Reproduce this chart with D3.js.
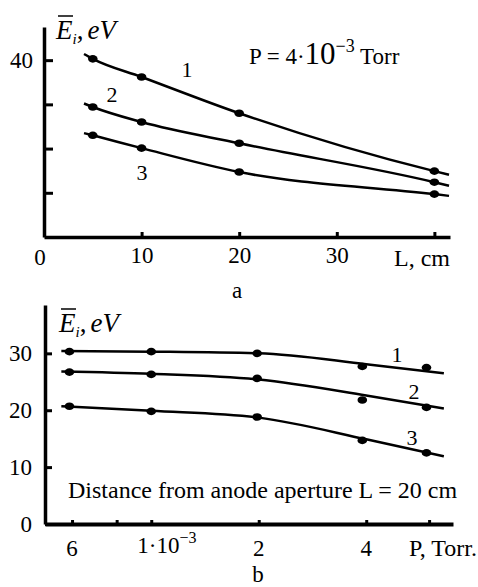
<!DOCTYPE html>
<html>
<head>
<meta charset="utf-8">
<script src="https://cdn.jsdelivr.net/npm/d3@7"></script>
<style>
  body { margin: 0; background: #fff; }
  svg { display: block; }
  .axis path, .axis line { stroke: #000; }
</style>
</head>
<body>
<div id="chart"></div>
<script>
var FONT = "'Liberation Serif', 'Times New Roman', serif";

// ---- panel a: mean ion energy vs distance, P = 4e-3 Torr
var lengthCm = [5, 10, 20, 40];
var energyA1 = [40.3, 36.2, 28.0, 14.9];
var energyA2 = [29.4, 26.0, 21.2, 12.4];
var energyA3 = [23.0, 20.1, 14.7, 9.7];
// fitted curves
var fitLengthCm = [4.1, 5, 10, 20, 40, 41.5];
var fitA1 = [41.4, 40.3, 36.2, 28.0, 14.9, 14.1];
var fitA2 = [30.2, 29.4, 26.0, 21.2, 12.4, 11.6];
var fitA3 = [23.5, 23.0, 20.1, 14.7, 9.7, 9.3];
var yTicksA = [10, 20, 30, 40];
var xTicksA = [10, 20, 30, 40];

// ---- panel b: mean ion energy vs pressure, L = 20 cm
var pressureTorr = [5.9e-4, 1e-3, 1.98e-3, 3.9e-3, 5.9e-3];
var energyB1 = [30.3, 30.3, 30.0, 27.7, 27.5];
var energyB2 = [26.7, 26.3, 25.6, 21.8, 20.5];
var energyB3 = [20.7, 19.8, 18.8, 14.7, 12.5];
var fitPressure = [5.6e-4, 1e-3, 2e-3, 4e-3, 6.6e-3];
var fitB1 = [30.4, 30.3, 30.0, 28.1, 26.5];
var fitB2 = [26.8, 26.4, 25.4, 22.6, 20.3];
var fitB3 = [20.7, 19.9, 18.7, 14.9, 11.9];
var yTicksB = [0, 10, 20, 30];
var xTicksB = [6e-4, 8e-4, 1e-3, 2e-3, 4e-3, 6e-3];

var svgWidth = 478, svgHeight = 587;

var svg = d3.select("#chart")
  .append("svg")
  .attr("width", svgWidth)
  .attr("height", svgHeight);

function label(g, x, y, size, str, anchor) {
  return g.append("text")
    .attr("x", x)
    .attr("y", y)
    .attr("text-anchor", anchor || "start")
    .style("font-family", FONT)
    .style("font-size", size + "px")
    .text(str);
}

// y-axis label with overline on E
function energyLabel(x, y) {
  var t = label(svg, x, y, 27, null);
  var e = t.append("tspan").attr("font-style", "italic").text("E");
  t.append("tspan").attr("font-style", "italic").style("font-size", "15px").attr("dy", 5).text("i");
  t.append("tspan").attr("dy", -5).text(",");
  t.append("tspan").attr("font-style", "italic").attr("dx", 4).text("eV");
  var b = e.node().getBBox();
  svg.append("line")
    .attr("x1", b.x + 3).attr("x2", b.x + b.width)
    .attr("y1", y - 23).attr("y2", y - 23)
    .attr("stroke", "#000").attr("stroke-width", 1.5);
}

function styleAxis(g, width) {
  g.attr("font-family", null).attr("font-size", null);
  g.selectAll("text").style("font-family", FONT).style("font-size", "23px");
  g.select(".domain").attr("stroke-width", width);
  g.selectAll(".tick line").attr("stroke-width", 3);
}

function drawSeries(g, xs, ys, fx, fy, xScale, yScale) {
  var line = d3.line()
    .x(function(d) { return xScale(d[0]); })
    .y(function(d) { return yScale(d[1]); })
    .curve(d3.curveMonotoneX);
  g.append("path")
    .datum(d3.zip(fx, fy))
    .attr("d", line)
    .attr("fill", "none")
    .attr("stroke", "#000")
    .attr("stroke-width", 2.5);
  g.selectAll(null)
    .data(d3.zip(xs, ys))
    .enter()
    .append("ellipse")
    .attr("cx", function(d) { return xScale(d[0]); })
    .attr("cy", function(d) { return yScale(d[1]); })
    .attr("rx", 4.8)
    .attr("ry", 3.8)
    .attr("fill", "#000");
}

// ================= panel a =================
var xA = d3.scaleLinear().domain([0, 41.6]).range([44, 450]);
var yA = d3.scaleLinear().domain([0, 47.5]).range([237, 27]);
var gA = svg.append("g");

drawSeries(gA, lengthCm, energyA1, fitLengthCm, fitA1, xA, yA);
drawSeries(gA, lengthCm, energyA2, fitLengthCm, fitA2, xA, yA);
drawSeries(gA, lengthCm, energyA3, fitLengthCm, fitA3, xA, yA);

var yAxisA = gA.append("g")
  .attr("class", "axis")
  .attr("transform", "translate(" + xA(0) + ",0)")
  .call(d3.axisLeft(yA).tickValues(yTicksA).tickSizeInner(-9).tickSizeOuter(0)
    .tickPadding(11).tickFormat(function(d) { return d === 40 ? "40" : ""; }));
styleAxis(yAxisA, 3.5);
yAxisA.selectAll(".tick line").filter(function(d) { return d === 20; }).attr("stroke", "#b00000");

var xAxisA = gA.append("g")
  .attr("class", "axis")
  .attr("transform", "translate(0," + yA(0) + ")")
  .call(d3.axisBottom(xA).tickValues(xTicksA).tickSizeInner(-5).tickSizeOuter(0)
    .tickPadding(10).tickFormat(function(d) { return d === 40 ? "" : d; }));
styleAxis(xAxisA, 3.5);

label(gA, 40, 265, 23, "0", "middle");
label(gA, 450, 266, 24, "L, cm", "end");
label(gA, 237, 298, 23, "a", "middle");

var pText = label(gA, 249, 64, 23, null);
pText.append("tspan").text("P = 4\u00b7");
pText.append("tspan").style("font-size", "31px").text("10");
pText.append("tspan").style("font-size", "18px").attr("dy", -12).text("\u22123");
pText.append("tspan").attr("dy", 12).text(" Torr");

label(gA, 187, 77, 22, "1", "middle");
label(gA, 112, 102, 22, "2", "middle");
label(gA, 142, 180, 22, "3", "middle");

energyLabel(56, 39);

// ================= panel b =================
var xB = d3.scaleLog().domain([5.04e-4, 7.0e-3]).range([45, 453]);
var yB = d3.scaleLinear().domain([0, 38.5]).range([524, 305]);
var gB = svg.append("g");

drawSeries(gB, pressureTorr, energyB1, fitPressure, fitB1, xB, yB);
drawSeries(gB, pressureTorr, energyB2, fitPressure, fitB2, xB, yB);
drawSeries(gB, pressureTorr, energyB3, fitPressure, fitB3, xB, yB);

var yAxisB = gB.append("g")
  .attr("class", "axis")
  .attr("transform", "translate(" + xB.range()[0] + ",0)")
  .call(d3.axisLeft(yB).tickValues(yTicksB).tickSizeInner(-7).tickSizeOuter(0)
    .tickPadding(13).tickFormat(d3.format("d")));
styleAxis(yAxisB, 3.5);

var xAxisB = gB.append("g")
  .attr("class", "axis")
  .attr("transform", "translate(0," + yB(0) + ")")
  .call(d3.axisBottom(xB).tickValues(xTicksB).tickSizeInner(-4).tickSizeOuter(0)
    .tickFormat(""));
styleAxis(xAxisB, 4);

// pressure tick labels
var bLabels = [[6e-4, "6"], [2e-3, "2"], [4e-3, "4"]];
gB.selectAll(null).data(bLabels).enter().append("text")
  .attr("x", function(d) { return xB(d[0]); })
  .attr("y", 556)
  .attr("text-anchor", "middle")
  .style("font-family", FONT)
  .style("font-size", "23px")
  .text(function(d) { return d[1]; });

var mText = label(gB, xB(1e-3) - 14, 553, 23, null);
mText.append("tspan").text("1\u00b710");
mText.append("tspan").style("font-size", "16px").attr("dy", -10).text("\u22123");

label(gB, 477, 556, 24, "P, Torr.", "end");
label(gB, 258, 582, 23, "b", "middle");

label(gB, 68, 498, 24, "Distance from anode aperture L = 20 cm");

label(gB, 397, 362, 22, "1", "middle");
label(gB, 414, 399, 22, "2", "middle");
label(gB, 412, 445, 22, "3", "middle");

energyLabel(59, 332);
</script>
</body>
</html>
